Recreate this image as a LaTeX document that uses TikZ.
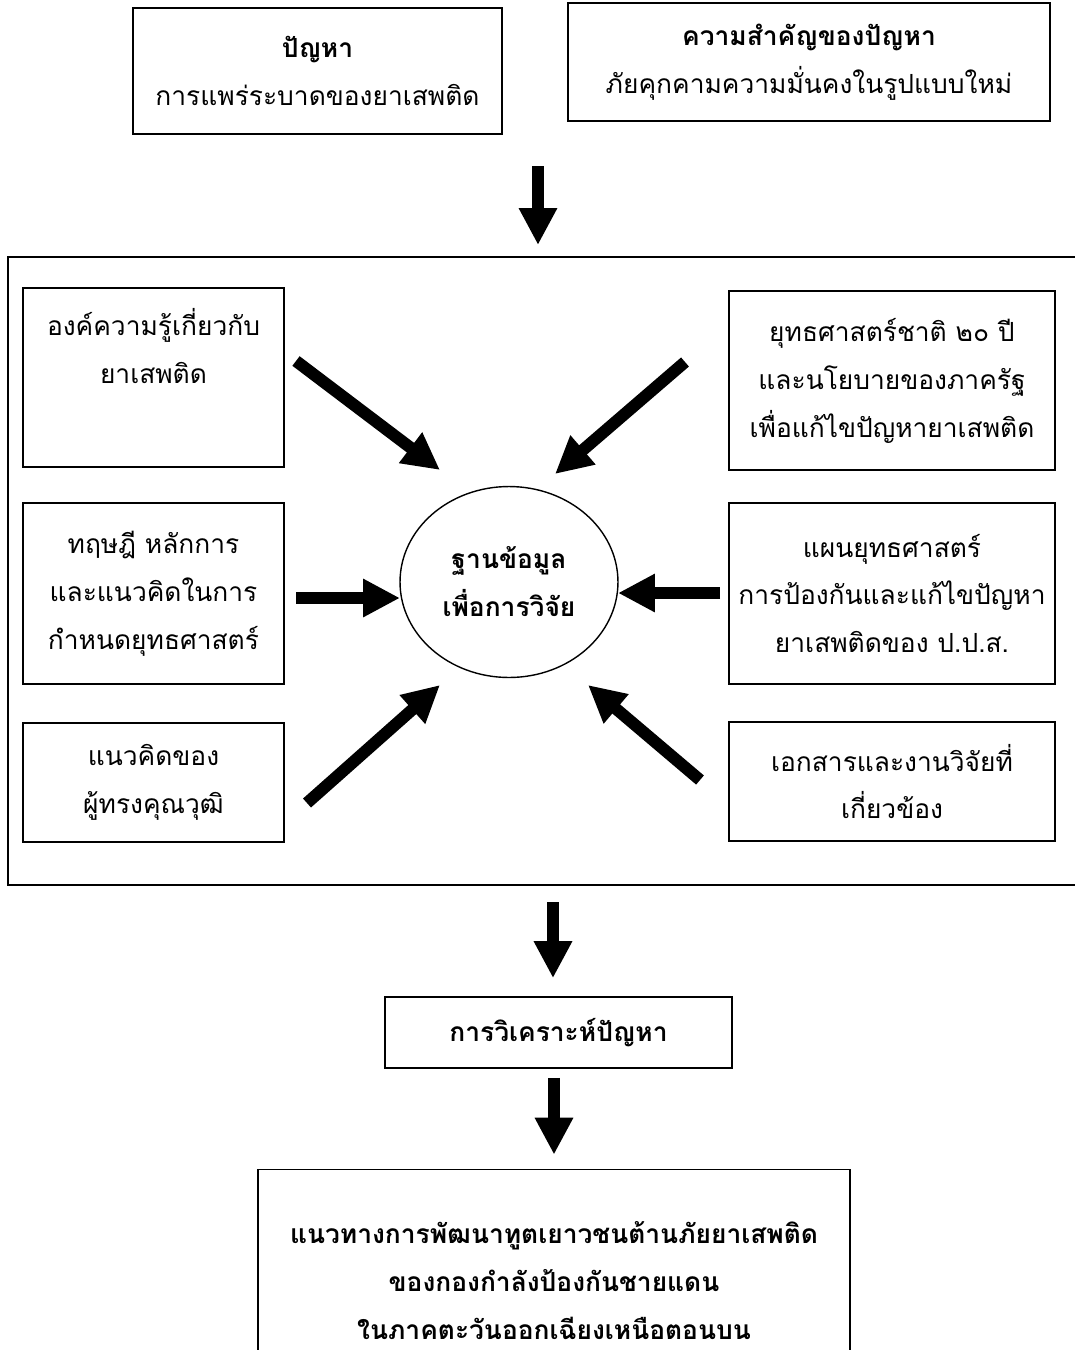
\documentclass[tikz,border=0pt]{standalone}
\usepackage{fontspec}
\setmainfont[Script=Thai]{Loma}
\usetikzlibrary{arrows.meta,shapes.geometric}
\newcommand\thaisize{\fontsize{15}{27.3}\selectfont}
\tikzset{
  box/.style={draw, line width=1pt, align=center, inner sep=0pt, font=\thaisize},
  fat/.style={line width=0.24cm, -{Triangle[width=0.72cm,length=0.74cm]}},
}

\begin{document}
\begin{tikzpicture}[x=0.02cm, y=-0.02cm]
			%%%%% page %%%%%
			\useasboundingbox (0,0) rectangle (1075,1350);
			\clip (0,0) rectangle (1075,1350);
			
			%%%%% top %%%%%
			\node[box, minimum width=7.38cm, minimum height=2.52cm] (prob) at (317.5,71)
				{\textbf{ปัญหา}\\การแพร่ระบาดของยาเสพติด};
			\node[box, minimum width=9.64cm, minimum height=2.36cm] (imp) at (809,62)
				{\textbf{ความสำคัญของปัญหา}\\ภัยคุกคามความมั่นคงในรูปแบบใหม่};
			
			\coordinate (top1) at (538,166);
			\coordinate (top2) at (538,245);
			\draw[fat] (top1) -- (top2);
			
			%%%%% frame %%%%%
			\draw[line width=1pt] (8,257) rectangle (1100,885);
			
			\node[draw, ellipse, line width=0.8pt, inner sep=0pt, align=center,
				minimum width=4.36cm, minimum height=3.82cm, font=\thaisize\bfseries] (db) at (509,582)
				{ฐานข้อมูล\\เพื่อการวิจัย};
			
			\node[box, minimum width=5.22cm, minimum height=3.58cm] (kb) at (153.5,377.5)
				{องค์ความรู้เกี่ยวกับ\\ยาเสพติด\\\strut};
			\node[box, minimum width=6.52cm, minimum height=3.58cm] (pol) at (892,380.5)
				{ยุทธศาสตร์ชาติ ๒๐ ปี\\และนโยบายของภาครัฐ\\เพื่อแก้ไขปัญหายาเสพติด};
			\node[box, minimum width=5.22cm, minimum height=3.62cm] (theo) at (153.5,593.5)
				{ทฤษฎี หลักการ\\และแนวคิดในการ\\กำหนดยุทธศาสตร์};
			\node[box, minimum width=6.52cm, minimum height=3.62cm] (plan) at (892,593.5)
				{แผนยุทธศาสตร์\\การป้องกันและแก้ไขปัญหา\\ยาเสพติดของ ป.ป.ส.};
			\node[box, minimum width=5.22cm, minimum height=2.38cm] (expt) at (153.5,782.5)
				{แนวคิดของ\\ผู้ทรงคุณวุฒิ};
			\node[box, minimum width=6.52cm, minimum height=2.38cm] (docs) at (892,781.5)
				{เอกสารและงานวิจัยที่\\เกี่ยวข้อง};
			
			% arrows into db
			\coordinate (kb1) at (296,361);   \coordinate (kb2) at (440,470);
			\coordinate (pol1) at (685,362);  \coordinate (pol2) at (555,474);
			\coordinate (theo1) at (296,598); \coordinate (theo2) at (400,598);
			\coordinate (plan1) at (720,593); \coordinate (plan2) at (618,593);
			\coordinate (expt1) at (307,803); \coordinate (expt2) at (440,685);
			\coordinate (docs1) at (700,780); \coordinate (docs2) at (588,685);
			\draw[fat] (kb1) -- (kb2);
			\draw[fat] (pol1) -- (pol2);
			\draw[fat] (theo1) -- (theo2);
			\draw[fat] (plan1) -- (plan2);
			\draw[fat] (expt1) -- (expt2);
			\draw[fat] (docs1) -- (docs2);
			
			%%%%% bottom %%%%%
			\node[box, minimum width=6.94cm, minimum height=1.42cm, font=\thaisize\bfseries] (ana) at (558.5,1032.5)
				{การวิเคราะห์ปัญหา};
			\node[box, minimum width=11.84cm, minimum height=4.46cm, font=\thaisize\bfseries] (out) at (554,1281)
				{แนวทางการพัฒนาทูตเยาวชนต้านภัยยาเสพติด\\ของกองกำลังป้องกันชายแดน\\ในภาคตะวันออกเฉียงเหนือตอนบน};
			
			\coordinate (fb) at (553,902);
			\draw[fat, shorten >=0.36cm] (fb) -- (fb |- ana.north);
			\draw[fat, shorten <=0.18cm, shorten >=0.28cm] (out.north |- ana.south) -- (out.north);
			
		\end{tikzpicture}
\end{document}
